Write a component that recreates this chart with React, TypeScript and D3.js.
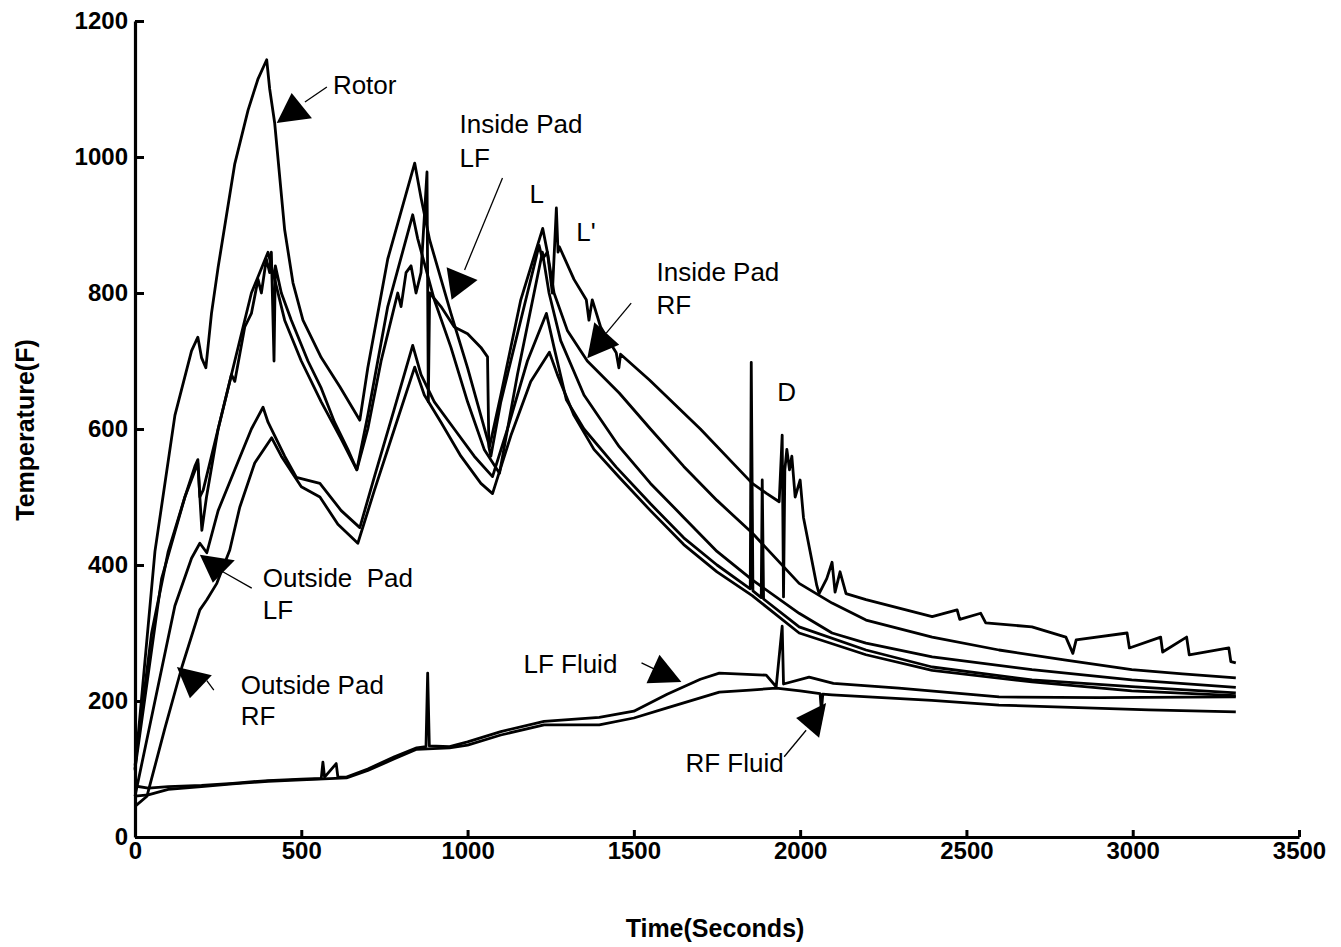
import React, { useEffect, useRef } from 'react';
import * as d3 from 'd3';

type Pt = [number, number];

// time (s), temperature (F)
const rotor: Pt[] = [
  [0, 98], [60, 420], [120, 620], [170, 715], [189, 735], [200, 705], [213, 690], [230, 770], [250, 838],
  [300, 990], [340, 1069], [370, 1115], [396, 1143], [405, 1100], [420, 1050], [450, 893], [475, 815],
  [505, 760], [560, 705], [616, 662], [676, 613], [700, 690], [760, 850], [841, 991], [860, 940],
  [886, 878], [950, 770], [1000, 690], [1066, 574], [1100, 650], [1160, 790], [1226, 895], [1240, 860],
  [1260, 800], [1300, 745], [1360, 700], [1456, 653], [1550, 600], [1650, 545], [1750, 495], [1856, 447],
  [1997, 373], [2096, 344], [2198, 319], [2397, 294], [2598, 275], [2799, 260], [2997, 246], [3150, 240],
  [3310, 234],
];

const insideLF: Pt[] = [
  [0, 100], [80, 380], [150, 500], [189, 550], [201, 451], [215, 500], [250, 600], [300, 700], [350, 800],
  [400, 860], [420, 820], [450, 760], [500, 700], [560, 640], [620, 585], [667, 540], [700, 620], [760, 780],
  [835, 915], [850, 880], [900, 790], [950, 720], [1000, 640], [1050, 570], [1096, 535], [1150, 680],
  [1225, 860], [1245, 800], [1280, 730], [1350, 650], [1456, 574], [1550, 520], [1650, 470], [1750, 420],
  [1856, 378], [1997, 329], [2096, 300], [2198, 285], [2397, 265], [2697, 246], [2997, 231], [3310, 220],
];

const insideRF: Pt[] = [
  [0, 105], [50, 300], [100, 420], [150, 500], [180, 545], [189, 555], [195, 500], [205, 510], [230, 560],
  [260, 620], [290, 680], [300, 670], [330, 750], [350, 770], [370, 820], [380, 800], [395, 850], [405, 830],
  [410, 860], [418, 700], [422, 840], [440, 800], [470, 760], [520, 700], [560, 660], [600, 610], [640, 570],
  [667, 540], [700, 600], [740, 700], [770, 760], [790, 800], [800, 780], [815, 830], [830, 840], [845, 800],
  [860, 830], [878, 978], [882, 640], [886, 800], [920, 780], [960, 750], [1000, 740], [1040, 720],
  [1060, 706], [1064, 574], [1070, 560], [1100, 640], [1140, 720], [1180, 800], [1200, 840], [1215, 870],
  [1225, 850], [1240, 860], [1255, 800], [1267, 925], [1272, 860], [1276, 868], [1320, 820], [1357, 790],
  [1365, 760], [1375, 790], [1400, 750], [1447, 712], [1455, 690], [1460, 710], [1547, 672], [1700, 600],
  [1856, 520], [1900, 505], [1937, 493], [1946, 591], [1950, 353], [1954, 540], [1960, 570], [1968, 540],
  [1975, 560], [1985, 500], [2000, 525], [2010, 470], [2030, 420], [2050, 370], [2057, 358], [2080, 380],
  [2096, 404], [2105, 360], [2120, 390], [2138, 358], [2198, 349], [2397, 324], [2472, 334], [2480, 320],
  [2543, 329], [2558, 315], [2697, 309], [2799, 294], [2820, 270], [2830, 290], [2983, 300], [2990, 278],
  [3084, 294], [3090, 272], [3162, 294], [3170, 268], [3289, 278], [3295, 258], [3310, 256],
];

const outsideLF: Pt[] = [
  [0, 60], [60, 200], [120, 340], [170, 410], [195, 432], [216, 418], [250, 480], [300, 540], [350, 600],
  [385, 632], [400, 610], [450, 560], [485, 529], [556, 520], [620, 480], [676, 455], [720, 530], [780, 630],
  [835, 723], [860, 680], [900, 640], [960, 600], [1020, 560], [1075, 530], [1120, 600], [1180, 700],
  [1237, 770], [1260, 720], [1297, 643], [1350, 600], [1447, 544], [1550, 490], [1650, 440], [1750, 400],
  [1850, 365], [1853, 698], [1858, 362], [1883, 352], [1886, 525], [1890, 350], [1997, 309], [2198, 275],
  [2397, 250], [2697, 231], [2997, 221], [3310, 212],
];

const outsideRF: Pt[] = [
  [0, 45], [36, 60], [90, 160], [141, 250], [195, 334], [216, 349], [246, 373], [285, 422], [315, 485],
  [360, 550], [411, 587], [440, 560], [500, 515], [556, 500], [610, 460], [670, 432], [720, 510], [780, 600],
  [841, 691], [870, 650], [920, 610], [980, 560], [1040, 520], [1075, 505], [1130, 590], [1190, 670],
  [1246, 713], [1270, 680], [1320, 620], [1380, 570], [1456, 529], [1550, 480], [1650, 430], [1750, 390],
  [1856, 355], [1997, 300], [2198, 268], [2397, 245], [2697, 228], [2997, 215], [3310, 208],
];

const lfFluid: Pt[] = [
  [0, 75], [40, 72], [100, 74], [200, 76], [294, 79], [400, 83], [500, 85], [560, 86], [565, 110], [570, 88],
  [605, 108], [610, 88], [636, 88], [700, 100], [780, 118], [847, 131], [875, 133], [880, 241], [885, 134],
  [946, 133], [1000, 140], [1100, 155], [1230, 170], [1396, 176], [1500, 185], [1600, 210], [1700, 232],
  [1757, 241], [1898, 238], [1928, 221], [1946, 310], [1950, 225], [2027, 235], [2100, 226], [2297, 219],
  [2598, 206], [2900, 205], [3310, 206],
];

const rfFluid: Pt[] = [
  [0, 60], [40, 62], [100, 70], [200, 74], [294, 78], [400, 82], [500, 84], [636, 87], [700, 98], [780, 115],
  [847, 129], [946, 131], [1000, 135], [1100, 150], [1230, 165], [1396, 165], [1500, 175], [1600, 190],
  [1757, 213], [1850, 216], [1928, 219], [2000, 215], [2060, 211], [2064, 185], [2068, 210], [2096, 209],
  [2396, 201], [2598, 194], [3048, 187], [3310, 184],
];

const series = [rotor, insideLF, insideRF, outsideLF, outsideRF, lfFluid, rfFluid];

const xTicks = [0, 500, 1000, 1500, 2000, 2500, 3000, 3500];
const yTicks = [0, 200, 400, 600, 800, 1000, 1200];

// annotation texts anchored in data units
const labels: { t: number; v: number; text: string }[] = [
  { t: 595, v: 1092, text: 'Rotor' },
  { t: 976, v: 1036, text: 'Inside Pad' },
  { t: 976, v: 986, text: 'LF' },
  { t: 1186, v: 933, text: 'L' },
  { t: 1327, v: 876, text: "L'" },
  { t: 1568, v: 817, text: 'Inside Pad' },
  { t: 1568, v: 769, text: 'RF' },
  { t: 1931, v: 641, text: 'D' },
  { t: 384, v: 367, text: 'Outside  Pad' },
  { t: 384, v: 320, text: 'LF' },
  { t: 318, v: 211, text: 'Outside Pad' },
  { t: 318, v: 164, text: 'RF' },
  { t: 1168, v: 241, text: 'LF Fluid' },
  { t: 1655, v: 95, text: 'RF Fluid' },
];

const arrowHeads: Pt[][] = [
  [[471, 1094], [532, 1057], [426, 1050]],
  [[937, 838], [1030, 819], [952, 790]],
  [[1381, 757], [1456, 724], [1360, 704]],
  [[195, 415], [300, 407], [234, 374]],
  [[126, 250], [231, 238], [165, 204]],
  [[1577, 268], [1643, 228], [1538, 226]],
  [[2078, 197], [2057, 146], [1988, 175]],
];

const leaders: Pt[][] = [
  [[511, 1081], [577, 1103]],
  [[1105, 969], [991, 834]],
  [[1492, 785], [1417, 741]],
  [[351, 366], [264, 390]],
  [[216, 230], [237, 216]],
  [[1523, 256], [1562, 247]],
  [[1952, 118], [2018, 157]],
];

const W = 1341;
const H = 947;

const App: React.FC = () => {
  const ref = useRef<SVGSVGElement>(null);

  useEffect(() => {
    const svg = d3.select(ref.current).attr('width', W).attr('height', H);
    svg.selectAll('*').remove();

    const x = d3.scaleLinear().domain([0, 3500]).range([135, 1299]);
    const y = d3.scaleLinear().domain([0, 1200]).range([837, 21]);

    const font = "'Liberation Sans', Arial, sans-serif";

    // data lines
    const line = d3.line<Pt>().x(d => x(d[0])).y(d => y(d[1]));
    svg.append('g')
      .selectAll('path')
      .data(series)
      .join('path')
      .attr('d', d => line(d))
      .attr('fill', 'none')
      .attr('stroke', '#000')
      .attr('stroke-width', 2.8)
      .attr('stroke-linejoin', 'round');

    // axes, ticks point inward
    const fmt = d3.format('d');
    const xAxis = svg.append('g')
      .attr('transform', `translate(0,${y(0)})`)
      .call(d3.axisBottom(x).tickValues(xTicks).tickFormat(fmt).tickSizeInner(-7).tickSizeOuter(0).tickPadding(5));
    const yAxis = svg.append('g')
      .attr('transform', `translate(${x(0)},0)`)
      .call(d3.axisLeft(y).tickValues(yTicks).tickFormat(fmt).tickSizeInner(-9).tickSizeOuter(0).tickPadding(7));

    [xAxis, yAxis].forEach(g => {
      g.select('.domain').attr('stroke', '#000').attr('stroke-width', 3.2);
      g.selectAll('.tick line').attr('stroke', '#000').attr('stroke-width', 3);
      g.selectAll('.tick text')
        .attr('fill', '#000')
        .style('font-family', font)
        .style('font-weight', 'bold')
        .style('font-size', '24px');
    });

    // axis titles
    svg.append('text')
      .attr('x', 715).attr('y', 937)
      .attr('text-anchor', 'middle')
      .style('font-family', font).style('font-weight', 'bold').style('font-size', '25px')
      .text('Time(Seconds)');
    svg.append('text')
      .attr('transform', `translate(34,430) rotate(-90)`)
      .attr('text-anchor', 'middle')
      .style('font-family', font).style('font-weight', 'bold').style('font-size', '25px')
      .text('Temperature(F)');

    // annotations
    const ann = svg.append('g');
    ann.selectAll('polygon')
      .data(arrowHeads)
      .join('polygon')
      .attr('points', d => d.map(p => `${x(p[0])},${y(p[1])}`).join(' '))
      .attr('fill', '#000');
    ann.selectAll('path.leader')
      .data(leaders)
      .join('path')
      .attr('class', 'leader')
      .attr('d', d => line(d))
      .attr('stroke', '#000')
      .attr('stroke-width', 1.3)
      .attr('fill', 'none');
    ann.selectAll('text')
      .data(labels)
      .join('text')
      .attr('x', d => x(d.t))
      .attr('y', d => y(d.v))
      .attr('xml:space', 'preserve')
      .style('white-space', 'pre')
      .style('font-family', font)
      .style('font-size', '26px')
      .text(d => d.text);
  }, []);

  return (
    <div style={{ position: 'absolute', left: 0, top: 0, background: '#fff' }}>
      <svg ref={ref} style={{ display: 'block' }}></svg>
    </div>
  );
};

export default App;
